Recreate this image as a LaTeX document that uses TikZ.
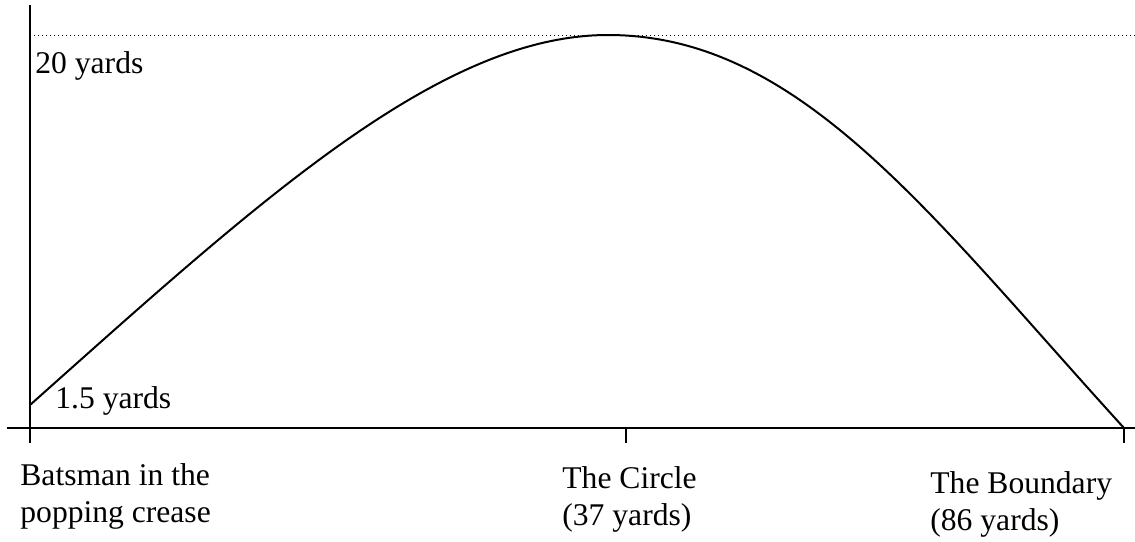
\documentclass[tikz,border=0pt]{standalone}
\usepackage{fontspec}
\setmainfont{Liberation Serif}
\usetikzlibrary{positioning}

\begin{document}
\begin{tikzpicture}[
    x=0.5pt, y=-0.5pt,
    axis/.style={line width=1pt},
    guide/.style={line width=0.5pt, dash pattern=on 0.5pt off 1.5pt},
    lbl/.style={inner sep=0pt, anchor=base west, align=left,
                font=\fontsize{15.8}{18.5}\selectfont}
  ]
  \useasboundingbox (0,0) rectangle (1135,541);

  % axes and ticks
  \coordinate (ytop) at (30,5);
  \coordinate (ybot) at (30,443);
  \coordinate (xleft) at (7,428);
  \coordinate (xright) at (1135,428);
  \draw[axis] (ytop) -- (ybot);
  \draw[axis] (xleft) -- (xright);
  \foreach \x/\name in {626/circ, 1124/bound} {
    \coordinate (\name top) at (\x,428);
    \coordinate (\name bot) at (\x,443);
    \draw[axis] (\name top) -- (\name bot);
  }

  % top height
  \coordinate (gleft) at (30,35);
  \coordinate (gright) at (1135,35);
  \draw[guide] (gleft) -- (gright);

  % flight of the ball
  \coordinate (start) at (30,405);
  \coordinate (peak) at (608,35);
  \coordinate (land) at (1124,428);
  \draw[axis] (start) .. controls (260,200) and (440,35) .. (peak)
    .. controls (800,35) and (930,215) .. (land);

  \node[lbl] (high) at (35,73) {20 yards};
  \node[lbl] (low) at (55,408) {1.5 yards};

  % last line sits on the given baseline
  \node[lbl] (bat) at (20,522) {Batsman in the\\popping crease};
  \node[lbl] (circ) at (562,525) {The Circle\\(37 yards)};
  \node[lbl] (bound) at (930,530) {The Boundary\\(86 yards)};
\end{tikzpicture}
\end{document}
